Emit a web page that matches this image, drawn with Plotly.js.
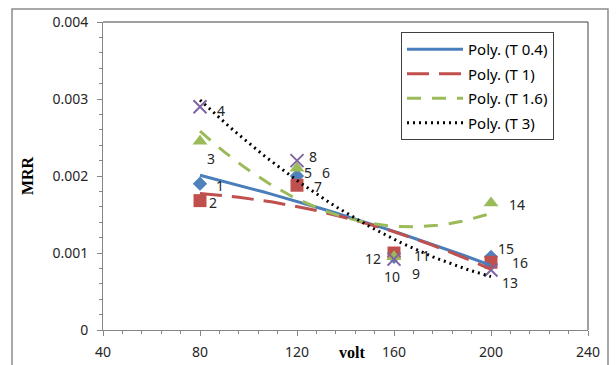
<!DOCTYPE html>
<html><head><meta charset="utf-8">
<script src="https://cdn.plot.ly/plotly-3.0.1.min.js"></script>
<style>html,body{margin:0;padding:0;background:#fff}#c{width:616px;height:365px}</style>
</head><body><div id="c"></div>
<script>
const volt = [80, 120, 160, 200];
const T04 = [0.0019, 0.0020, 0.00095, 0.00095];
const T1 = [0.00168, 0.00188, 0.0010, 0.00088];
const T16 = [0.00245, 0.0021, 0.00095, 0.00165];
const T3 = [0.0029, 0.0022, 0.00092, 0.00078];
const seriesNames = ['T 0.4', 'T 1', 'T 1.6', 'T 3'];
const xTicks = [40, 80, 120, 160, 200, 240];
const yTicks = [0, 0.001, 0.002, 0.003, 0.004];
const yTickText = ['0', '0.001', '0.002', '0.003', '0.004'];
// point labels: [text, series index, point index]
const pointLabels = [
  ['1',0,0],['2',1,0],['3',2,0],['4',3,0],
  ['5',2,1],['6',1,1],['7',0,1],['8',3,1],
  ['9',0,2],['10',1,2],['11',2,2],['12',3,2],
  ['13',0,3],['14',2,3],['15',1,3],['16',3,3]
];
// pixel offsets of labels from their points (style)
const labelOffsets = [
  [20,2],[13,2],[11,17],[21,4],
  [11,4],[29,-13],[21,10],[16,-4],
  [22,17],[-2,23],[28,-1],[-21,-1],
  [19,26],[26,2],[15,-14],[29,-7]
];

const series = [T04, T1, T16, T3];
const colors = ['#4F81BD', '#C0504D', '#9BBB59', '#8064A2'];
const lineColors = ['#4A7EBB', '#C0504D', '#9BBB59', '#000000'];
const dashes = ['solid', '22px,10px', '14px,11px', '2px,4px'];
const symbols = ['diamond', 'square', 'triangle-up', 'x-thin-open'];
const sizes = [11, 13, 13, 13];

function polyfit2(xs, ys) {
  let S = [0,0,0,0,0], T = [0,0,0];
  for (let i = 0; i < xs.length; i++) {
    let p = 1;
    for (let k = 0; k < 5; k++) { S[k] += p; if (k < 3) T[k] += p * ys[i]; p *= xs[i]; }
  }
  const A = [[S[0],S[1],S[2],T[0]],[S[1],S[2],S[3],T[1]],[S[2],S[3],S[4],T[2]]];
  for (let i = 0; i < 3; i++) {
    for (let j = i+1; j < 3; j++) {
      const f = A[j][i] / A[i][i];
      for (let k = i; k < 4; k++) A[j][k] -= f * A[i][k];
    }
  }
  const c = [0,0,0];
  for (let i = 2; i >= 0; i--) {
    let s = A[i][3];
    for (let k = i+1; k < 3; k++) s -= A[i][k] * c[k];
    c[i] = s / A[i][i];
  }
  return c;
}

const traces = [];
series.forEach((ys, i) => {
  traces.push({
    x: volt, y: ys, type: 'scatter', mode: 'markers', showlegend: false,
    hoverinfo: 'skip',
    marker: {symbol: symbols[i], size: sizes[i], color: colors[i],
      line: {color: colors[i], width: i === 3 ? 2 : 0}}
  });
});
series.forEach((ys, i) => {
  const c = polyfit2(volt, ys);
  const fx = [], fy = [];
  const n = 60, x0 = volt[0], x1 = volt[volt.length-1];
  for (let k = 0; k <= n; k++) {
    const x = x0 + (x1 - x0) * k / n;
    fx.push(x); fy.push(c[0] + c[1]*x + c[2]*x*x);
  }
  traces.push({
    x: fx, y: fy, type: 'scatter', mode: 'lines', name: 'Poly. (' + seriesNames[i] + ')',
    legendgroup: 'g' + i,
    line: {color: lineColors[i], width: 3, dash: dashes[i]}
  });
});

const annotations = pointLabels.map((l, j) => ({
  x: volt[l[2]], y: series[l[1]][l[2]], text: l[0], showarrow: false,
  xshift: labelOffsets[j][0], yshift: -labelOffsets[j][1],
  xanchor: 'center', yanchor: 'middle',
  font: {family: 'Noto Sans', size: 14, color: '#262626'}
}));
annotations.push({
  xref: 'paper', yref: 'paper', x: (352-103)/485, y: -(352-330)/308,
  text: '<b>volt</b>', showarrow: false, xanchor: 'center', yanchor: 'middle',
  font: {family: 'Liberation Serif', size: 16, color: '#000'}
});

const layout = {
  width: 616, height: 365,
  margin: {l: 103, r: 28, t: 22, b: 35},
  paper_bgcolor: '#fff', plot_bgcolor: '#fff',
  showlegend: true,
  legend: {x: (401-103)/485, y: (330-32)/308, xanchor: 'left', yanchor: 'top',
    bordercolor: '#404040', borderwidth: 1, bgcolor: '#fff', itemwidth: 56,
    font: {family: 'Noto Sans', size: 15, color: '#000'}, tracegroupgap: 2},
  xaxis: {range: [40, 240], tickvals: xTicks, ticktext: xTicks.map(String),
    showgrid: false, zeroline: false, showline: true, linecolor: '#868686', linewidth: 1,
    ticks: 'outside', ticklen: 5, tickcolor: '#868686', ticklabelstandoff: 4,
    minor: {dtick: 8, tick0: 40, ticks: 'outside', ticklen: 3, tickcolor: '#868686', showgrid: false},
    tickfont: {family: 'Noto Sans', size: 14, color: '#262626'}, mirror: false},
  yaxis: {range: [0, 0.004], tickvals: yTicks, ticktext: yTickText,
    showgrid: false, zeroline: false, showline: true, linecolor: '#868686', linewidth: 1,
    ticks: 'outside', ticklen: 5, tickcolor: '#868686', ticklabelstandoff: 6,
    minor: {dtick: 0.0002, tick0: 0, ticks: 'outside', ticklen: 3, tickcolor: '#868686', showgrid: false},
    tickfont: {family: 'Noto Sans', size: 14, color: '#262626'},
    title: {text: '<b>MRR</b>', font: {family: 'Liberation Serif', size: 16, color: '#000'}, standoff: 14}},
  annotations: annotations,
  shapes: [
    {type: 'line', xref: 'paper', yref: 'paper', x0: 0, x1: 1, y0: 1, y1: 1, line: {color: '#404040', width: 1}},
    {type: 'line', xref: 'paper', yref: 'paper', x0: 1, x1: 1, y0: 0, y1: 1, line: {color: '#404040', width: 1}},
    {type: 'rect', xref: 'paper', yref: 'paper', x0: (12-103)/485, x1: (608-103)/485,
      y0: -0.2, y1: (330-9)/308, line: {color: '#8c8c8c', width: 1.5}}
  ]
};
Plotly.newPlot('c', traces, layout, {displayModeBar: false, staticPlot: true});
</script></body></html>
